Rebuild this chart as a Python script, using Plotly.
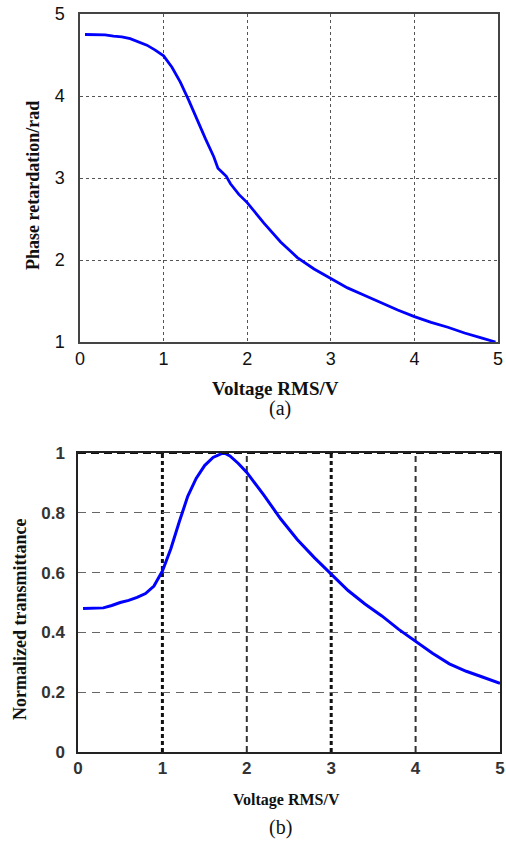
import plotly.graph_objects as go

W, H = 506, 844

# Panel (a): phase retardation vs voltage
volt_a = [0.06, 0.1, 0.2, 0.3, 0.4, 0.5, 0.6, 0.7, 0.8, 0.9, 1.0, 1.1, 1.2, 1.3, 1.4, 1.5, 1.6,
          1.65, 1.7, 1.75, 1.8, 1.9, 2.0, 2.2, 2.4, 2.6, 2.8, 3.0, 3.2, 3.4, 3.6, 3.8, 4.0,
          4.2, 4.4, 4.6, 4.8, 4.97]
phase = [4.75, 4.75, 4.75, 4.745, 4.73, 4.72, 4.70, 4.66, 4.62, 4.56, 4.49, 4.35, 4.17, 3.95,
         3.71, 3.48, 3.26, 3.12, 3.07, 3.02, 2.93, 2.80, 2.70, 2.45, 2.22, 2.03, 1.89, 1.77,
         1.66, 1.57, 1.48, 1.39, 1.31, 1.24, 1.18, 1.11, 1.05, 1.0]

# Panel (b): normalized transmittance vs voltage
volt_b = [0.06, 0.2, 0.3, 0.4, 0.5, 0.6, 0.7, 0.8, 0.9, 1.0, 1.1, 1.2, 1.3, 1.4, 1.5, 1.6, 1.7,
          1.75, 1.8, 1.9, 2.0, 2.2, 2.4, 2.6, 2.8, 3.0, 3.2, 3.4, 3.6, 3.8, 4.0, 4.2, 4.4, 4.6,
          4.8, 5.0]
trans = [0.48, 0.48, 0.482, 0.49, 0.50, 0.507, 0.517, 0.53, 0.555, 0.605, 0.68, 0.77, 0.855,
         0.915, 0.958, 0.985, 0.998, 0.998, 0.99, 0.965, 0.935, 0.86, 0.78, 0.71, 0.65, 0.595,
         0.54, 0.495, 0.455, 0.41, 0.37, 0.33, 0.295, 0.27, 0.25, 0.23]

ticks_x = [0, 1, 2, 3, 4, 5]
ticks_ya = [1, 2, 3, 4, 5]
ticks_yb = [0, 0.2, 0.4, 0.6, 0.8, 1]
ticklabels_yb = ["0", "0.2", "0.4", "0.6", "0.8", "1"]
ticklabels_xb = ["<b>%d</b>" % v for v in ticks_x]
ticklabels_yb_bold = ["<b>%s</b>" % t for t in ticklabels_yb]

def px_x(a, b):
    return [a / W, b / W]

def px_y(top, bottom):
    return [1 - bottom / H, 1 - top / H]

fig = go.Figure()
fig.add_trace(go.Scatter(x=volt_a, y=phase, mode="lines", line=dict(color="#0000ff", width=2.8),
                         xaxis="x", yaxis="y", showlegend=False))
fig.add_trace(go.Scatter(x=volt_b, y=trans, mode="lines", line=dict(color="#0000ff", width=3),
                         xaxis="x2", yaxis="y2", showlegend=False))

tickfont_a = dict(family="Liberation Sans, Arial", size=18, color="#111")
tickfont_b = dict(family="Liberation Sans, Arial", size=17, color="#333")

fig.update_layout(
    width=W, height=H, margin=dict(l=0, r=0, t=0, b=0, autoexpand=False),
    paper_bgcolor="white", plot_bgcolor="white",
    xaxis=dict(domain=px_x(80, 498), range=[0, 5], tickvals=ticks_x, anchor="y",
               showgrid=True, gridcolor="#555", griddash="3px,3px", gridwidth=1.3,
               showline=True, linecolor="#444", linewidth=1.5, mirror=True, automargin=False,
               ticks="", tickfont=tickfont_a, zeroline=False),
    yaxis=dict(domain=px_y(14, 342), range=[1, 5], tickvals=ticks_ya, anchor="x",
               showgrid=True, gridcolor="#555", griddash="3px,3px", gridwidth=1.3,
               showline=True, linecolor="#444", linewidth=1.5, mirror=True, automargin=False,
               ticks="", tickfont=tickfont_a, zeroline=False, ticklabelstandoff=10),
    xaxis2=dict(domain=px_x(78, 500), range=[0, 5], tickvals=ticks_x, ticktext=ticklabels_xb,
                anchor="y2", showgrid=False, showline=True, linecolor="#222", linewidth=1.5,
                mirror=True, automargin=False, ticks="", tickfont=tickfont_b, zeroline=False),
    yaxis2=dict(domain=px_y(453, 752), range=[0, 1], tickvals=ticks_yb, ticktext=ticklabels_yb_bold,
                anchor="x2", showgrid=True, gridcolor="#666", griddash="8px,6px", gridwidth=1.3,
                showline=True, linecolor="#222", linewidth=1.5, mirror=True, automargin=False,
                ticks="", tickfont=tickfont_b, zeroline=False, ticklabelstandoff=8),
)

# vertical grid lines in panel (b): 1 and 3 heavy dotted black, 2 and 4 dashed
for xv, w, dash, col in [(1, 3, "4px,3px", "#111"), (3, 3, "4px,3px", "#111"),
                         (2, 2, "6px,4px", "#333"), (4, 2, "6px,4px", "#333")]:
    fig.add_shape(type="line", xref="x2", yref="y2", x0=xv, x1=xv, y0=0, y1=1,
                  line=dict(color=col, width=w, dash=dash), layer="below")
# top border of panel (b) dashed dark
fig.add_shape(type="line", xref="x2", yref="y2", x0=0, x1=5, y0=1, y1=1,
              line=dict(color="#111", width=2.2, dash="8px,5px"))

ann = [
    dict(text="<b>Voltage RMS/V</b>", x=275 / W, y=1 - 388 / H,
         font=dict(family="Liberation Serif", size=19, color="#111")),
    dict(text="(a)", x=280 / W, y=1 - 408 / H,
         font=dict(family="Liberation Serif", size=20, color="#111")),
    dict(text="<b>Phase retardation/rad</b>", x=33 / W, y=1 - 186 / H, textangle=-90,
         font=dict(family="Liberation Serif", size=18, color="#111")),
    dict(text="<b>Voltage RMS/V</b>", x=286 / W, y=1 - 800 / H,
         font=dict(family="Liberation Serif", size=16, color="#111")),
    dict(text="(b)", x=280 / W, y=1 - 827 / H,
         font=dict(family="Liberation Serif", size=20, color="#111")),
    dict(text="<b>Normalized transmittance</b>", x=20 / W, y=1 - 620 / H, textangle=-90,
         font=dict(family="Liberation Serif", size=18, color="#111")),
]
for a in ann:
    fig.add_annotation(xref="paper", yref="paper", showarrow=False,
                       xanchor="center", yanchor="middle", **a)

fig.write_html("out.html", config={"displayModeBar": False},
               post_script="document.body.style.margin='0';document.body.style.overflow='hidden';")
